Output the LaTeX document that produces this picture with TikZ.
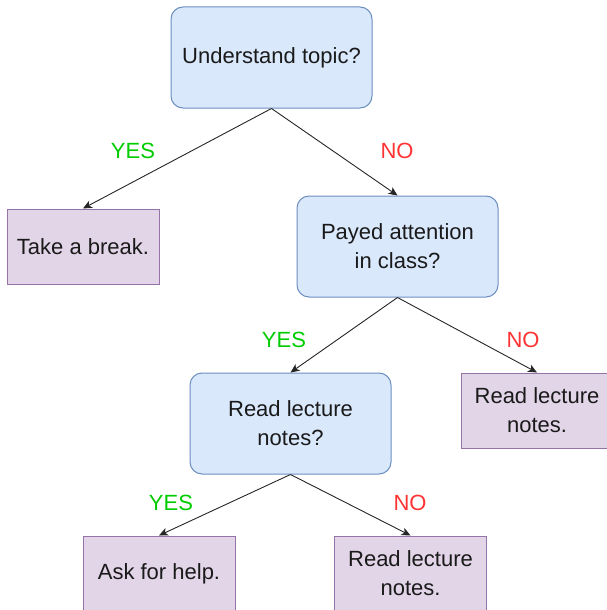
\documentclass[tikz,border=0pt]{standalone}
\usepackage{fontspec}
\setmainfont{Liberation Sans}
\usetikzlibrary{arrows.meta}
\definecolor{bfill}{HTML}{DAE8FC}
\definecolor{bline}{HTML}{6C8EBF}
\definecolor{pfill}{HTML}{E1D5E7}
\definecolor{pline}{HTML}{9673A6}
\definecolor{yescol}{HTML}{00CC00}
\definecolor{nocol}{HTML}{FF3333}
\definecolor{txt}{HTML}{1A1A1A}
\begin{document}
\begin{tikzpicture}[x=1pt,y=-1pt,
  every node/.style={font=\fontsize{22}{29}\selectfont, text=txt, align=center, inner sep=0pt},
  decision/.style={draw=bline, fill=bfill, rounded corners=12pt, minimum width=201pt, minimum height=101pt, line width=1pt},
  outcome/.style={draw=pline, fill=pfill, minimum width=152pt, minimum height=75pt, line width=1pt},
  yeslbl/.style={text=yescol},
  nolbl/.style={text=nocol},
  conn/.style={draw=black!85, line width=0.9pt, -{Stealth[length=9pt,width=8pt,inset=2.5pt]}}
]
\useasboundingbox (0,0) rectangle (606,610);
\node[decision] (q1) at (271.5,57.5) {Understand topic?};
\node[outcome] (brk) at (83,246.5) {Take a break.};
\node[decision] (q2) at (397.5,246.5) {Payed attention\\in class?};
\node[outcome] (rn1) at (537,410.5) {Read lecture\\notes.};
\node[decision] (q3) at (290.5,423.5) {Read lecture\\notes?};
\node[outcome] (help) at (159,573.5) {Ask for help.};
\node[outcome] (rn2) at (410.5,573.5) {Read lecture\\notes.};

\draw[conn] (q1.south) -- (brk.north);
\draw[conn] (q1.south) -- (q2.north);
\draw[conn] (q2.south) -- (q3.north);
\draw[conn] (q2.south) -- (rn1.north);
\draw[conn] (q3.south) -- (help.north);
\draw[conn] (q3.south) -- (rn2.north);

\node[yeslbl] (l1) at (133,151) {YES};
\node[nolbl] (l2) at (397,151) {NO};
\node[yeslbl] (l3) at (284,340) {YES};
\node[nolbl] (l4) at (523,340) {NO};
\node[yeslbl] (l5) at (171,503) {YES};
\node[nolbl] (l6) at (410,503) {NO};
\end{tikzpicture}
\end{document}
